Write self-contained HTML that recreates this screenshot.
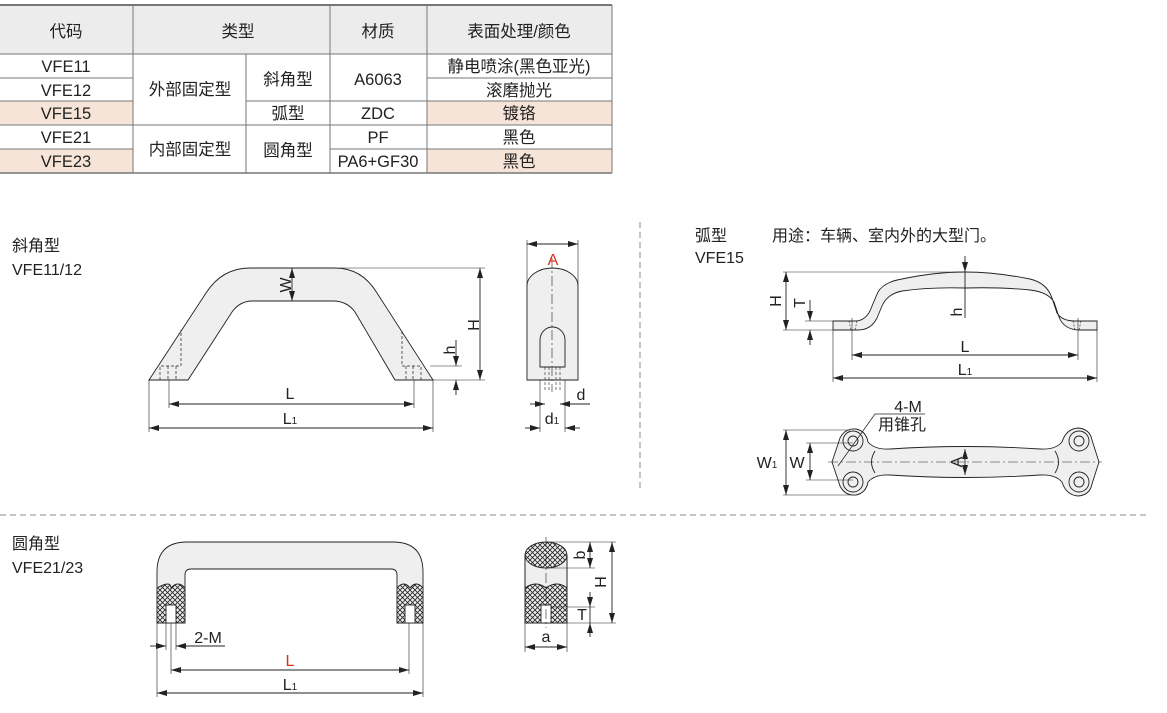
<!DOCTYPE html>
<html><head><meta charset="utf-8"><style>
body{margin:0;background:#fff;}
svg{display:block;font-family:"Liberation Sans","Noto Sans CJK SC",sans-serif;}
</style></head><body>
<svg width="1167" height="713" viewBox="0 0 1167 713" xmlns="http://www.w3.org/2000/svg">
<defs>
<marker id="ar" viewBox="0 0 10 6" refX="10" refY="3" markerWidth="10" markerHeight="6" orient="auto-start-reverse" markerUnits="userSpaceOnUse"><path d="M0,0 L10,3 L0,6 Z" fill="#222"/></marker>
<pattern id="hx" width="5" height="5" patternUnits="userSpaceOnUse"><rect width="5" height="5" fill="#eee"/><path d="M0,0 L5,5 M5,0 L0,5" stroke="#222" stroke-width="0.8"/></pattern>
</defs>
<!-- table -->
<g font-size="16.5" fill="#222" text-anchor="middle">
<rect x="0" y="5" width="612" height="49" fill="#ececec"/>
<rect x="0" y="101" width="133" height="24" fill="#f6e4d8"/>
<rect x="427" y="101" width="185" height="24" fill="#f6e4d8"/>
<rect x="0" y="149" width="133" height="24" fill="#f6e4d8"/>
<rect x="427" y="149" width="185" height="24" fill="#f6e4d8"/>
<g stroke="#777" stroke-width="1" fill="none">
<line x1="0" y1="5" x2="612" y2="5" stroke-width="2"/>
<line x1="0" y1="54" x2="612" y2="54"/>
<line x1="0" y1="173" x2="612" y2="173" stroke-width="1.5"/>
<line x1="0" y1="78" x2="133" y2="78"/><line x1="427" y1="78" x2="612" y2="78"/>
<line x1="0" y1="101" x2="133" y2="101"/><line x1="246" y1="101" x2="612" y2="101"/>
<line x1="0" y1="125" x2="612" y2="125"/>
<line x1="0" y1="149" x2="133" y2="149"/><line x1="330" y1="149" x2="612" y2="149"/>
<line x1="133" y1="5" x2="133" y2="173"/><line x1="246" y1="54" x2="246" y2="173"/>
<line x1="330" y1="5" x2="330" y2="173"/><line x1="427" y1="5" x2="427" y2="173"/>
<line x1="612" y1="5" x2="612" y2="173"/>
</g>
<text x="66" y="37">代码</text><text x="238" y="37">类型</text><text x="378" y="37">材质</text><text x="519" y="37">表面处理/颜色</text>
<text x="66" y="72">VFE11</text><text x="66" y="96">VFE12</text><text x="66" y="119">VFE15</text><text x="66" y="143">VFE21</text><text x="66" y="167">VFE23</text>
<text x="190" y="95">外部固定型</text><text x="190" y="155">内部固定型</text>
<text x="288" y="85">斜角型</text><text x="288" y="119">弧型</text><text x="288" y="156">圆角型</text>
<text x="378" y="85">A6063</text><text x="378" y="119">ZDC</text><text x="378" y="143">PF</text><text x="378" y="167">PA6+GF30</text>
<text x="519" y="72">静电喷涂(黑色亚光)</text><text x="519" y="96">滚磨抛光</text><text x="519" y="119">镀铬</text><text x="519" y="143">黑色</text><text x="519" y="167">黑色</text>
</g>
<!-- separators -->
<line x1="640" y1="222" x2="640" y2="490" stroke="#888" stroke-dasharray="6,4"/>
<line x1="0" y1="515" x2="1150" y2="515" stroke="#888" stroke-dasharray="6,4"/>
<!-- labels -->
<g font-size="16" fill="#222">
<text x="12" y="251">斜角型</text><text x="12" y="275">VFE11/12</text>
<text x="695" y="241">弧型</text><text x="695" y="263">VFE15</text>
<text x="772" y="241">用途：车辆、室内外的大型门。</text>
<text x="12" y="549">圆角型</text><text x="12" y="573">VFE21/23</text>
</g>
<g stroke="#222" stroke-width="0.9" fill="none" font-size="14">
<!-- drawing 1 -->
<path d="M149,380 L206,293 Q222,268 250,268 L335,268 Q362,268 377,293 L433,380 L395,380 L355,312 Q347,301 333,301 L252,301 Q240,301 232,312 L188,380 Z" fill="#efefef"/>
<g stroke-dasharray="3,2" stroke-width="0.7"><path d="M160,380 L160,366 L181,366 L181,330 M168,366 L168,380 M176,366 L176,380"/><path d="M421,380 L421,366 L402,366 L402,330 M413,366 L413,380 M406,366 L406,380"/></g>
<line x1="340" y1="268" x2="485" y2="268" stroke-width="0.6"/><line x1="433" y1="380" x2="485" y2="380" stroke-width="0.6"/>
<line x1="480" y1="268" x2="480" y2="380" marker-start="url(#ar)" marker-end="url(#ar)"/>
<line x1="430" y1="366" x2="462" y2="366" stroke-width="0.6"/>
<line x1="456" y1="340" x2="456" y2="366" marker-end="url(#ar)"/><line x1="456" y1="395" x2="456" y2="380" marker-end="url(#ar)"/>
<line x1="292" y1="268" x2="292" y2="301" marker-start="url(#ar)" marker-end="url(#ar)"/>
<line x1="149" y1="380" x2="149" y2="432" stroke-width="0.6"/><line x1="433" y1="380" x2="433" y2="432" stroke-width="0.6"/>
<line x1="169" y1="380" x2="169" y2="408" stroke-width="0.6"/><line x1="414" y1="380" x2="414" y2="408" stroke-width="0.6"/>
<line x1="169" y1="404" x2="414" y2="404" marker-start="url(#ar)" marker-end="url(#ar)"/>
<line x1="149" y1="428" x2="433" y2="428" marker-start="url(#ar)" marker-end="url(#ar)"/>
<!-- side view -->
<path d="M527,380 L527,286 A25.5,18 0 0 1 578,286 L578,380 Z" fill="#efefef"/>
<path d="M540,367 L540,340 A12.5,13 0 0 1 565,340 L565,367 Z" fill="#efefef"/>
<path d="M545,367 V392 M549,367 V392 M556,367 V392 M560,367 V392" stroke-dasharray="3,2" stroke-width="0.6"/>
<line x1="552" y1="258" x2="552" y2="392" stroke-dasharray="10,3,2,3" stroke-width="0.6"/>
<line x1="527" y1="240" x2="527" y2="286" stroke-width="0.6"/><line x1="578" y1="240" x2="578" y2="286" stroke-width="0.6"/>
<line x1="527" y1="244" x2="578" y2="244" marker-start="url(#ar)" marker-end="url(#ar)"/>
<line x1="540" y1="380" x2="540" y2="432" stroke-width="0.6"/><line x1="565" y1="380" x2="565" y2="432" stroke-width="0.6"/>
<line x1="530" y1="404" x2="545" y2="404" marker-end="url(#ar)"/><line x1="575" y1="404" x2="560" y2="404" marker-end="url(#ar)"/><line x1="560" y1="404" x2="590" y2="404"/>
<line x1="525" y1="428" x2="540" y2="428" marker-end="url(#ar)"/><line x1="580" y1="428" x2="565" y2="428" marker-end="url(#ar)"/>
<!-- drawing 3 top -->
<path d="M833,321 L855,321 Q867,321 872,306 L878,292 Q884,282 902,279 Q935,272 965,272 Q995,272 1030,279 Q1047,283 1052,298 L1057,313 Q1062,321 1075,321 L1097,321 L1097,330 L1080,330 Q1064,330 1059,317 L1054,302 Q1048,292 1030,290 Q1000,287 965,288 Q930,287 902,291 Q887,294 882,306 L877,318 Q871,330 858,330 L833,330 Z" fill="#efefef"/>
<path d="M849,321 L851,330 M857,321 L855,330 M1073,321 L1075,330 M1081,321 L1079,330" stroke-dasharray="2,1.5" stroke-width="0.6"/>
<line x1="783" y1="272" x2="965" y2="272" stroke-width="0.6"/><line x1="783" y1="330" x2="833" y2="330" stroke-width="0.6"/><line x1="805" y1="321" x2="833" y2="321" stroke-width="0.6"/>
<line x1="786" y1="272" x2="786" y2="330" marker-start="url(#ar)" marker-end="url(#ar)"/>
<line x1="810" y1="300" x2="810" y2="321" marker-end="url(#ar)"/><line x1="810" y1="345" x2="810" y2="330" marker-end="url(#ar)"/>
<line x1="965" y1="256" x2="965" y2="272" marker-end="url(#ar)"/><line x1="965" y1="272" x2="965" y2="318"/>
<line x1="852" y1="318" x2="852" y2="360" stroke-width="0.6"/><line x1="1078" y1="318" x2="1078" y2="360" stroke-width="0.6"/>
<line x1="833" y1="330" x2="833" y2="382" stroke-width="0.6"/><line x1="1097" y1="330" x2="1097" y2="382" stroke-width="0.6"/>
<line x1="852" y1="355" x2="1078" y2="355" marker-start="url(#ar)" marker-end="url(#ar)"/>
<line x1="833" y1="378" x2="1097" y2="378" marker-start="url(#ar)" marker-end="url(#ar)"/>
<!-- drawing 3 front -->
<path d="M832,462 L840,438 Q845,428 856,429 Q866,431 868,442 Q875,450 890,449 Q965,444 1040,449 Q1055,450 1062,442 Q1066,429 1078,428 Q1090,429 1092,440 L1099,462 L1092,484 Q1090,495 1078,496 Q1066,495 1062,482 Q1055,474 1040,475 Q965,480 890,475 Q875,474 868,482 Q866,493 856,495 Q845,496 840,486 Z" fill="#efefef"/>
<path d="M875,451 Q868,462 875,473 M1055,451 Q1062,462 1055,473" />
<circle cx="853" cy="441" r="10"/><circle cx="853" cy="441" r="5"/><circle cx="853" cy="482" r="10"/><circle cx="853" cy="482" r="5"/>
<circle cx="1079" cy="441" r="10"/><circle cx="1079" cy="441" r="5"/><circle cx="1079" cy="482" r="10"/><circle cx="1079" cy="482" r="5"/>
<line x1="828" y1="462" x2="1102" y2="462" stroke-dasharray="10,3,2,3" stroke-width="0.6"/>
<line x1="783" y1="430" x2="850" y2="430" stroke-width="0.6"/><line x1="783" y1="495" x2="850" y2="495" stroke-width="0.6"/>
<line x1="806" y1="443" x2="853" y2="443" stroke-width="0.6"/><line x1="806" y1="480" x2="853" y2="480" stroke-width="0.6"/>
<line x1="786" y1="430" x2="786" y2="495" marker-start="url(#ar)" marker-end="url(#ar)"/>
<line x1="810" y1="443" x2="810" y2="480" marker-start="url(#ar)" marker-end="url(#ar)"/>
<line x1="965" y1="449" x2="965" y2="475" marker-start="url(#ar)" marker-end="url(#ar)"/>
<polyline points="925,414 875,414 838,466" stroke-width="0.7"/>
<!-- drawing 4 -->
<path d="M157,623 L157,572 Q157,542 187,542 L393,542 Q423,542 423,572 L423,623 L397,623 L397,575 Q397,569 391,569 L191,569 Q185,569 185,575 L185,623 Z" fill="#efefef"/>
<path d="M157,588 Q171,580 171,588 Q178,580 185,588 L185,623 L157,623 Z" fill="url(#hx)"/>
<path d="M397,588 Q404,580 410,588 Q416,580 423,588 L423,623 L397,623 Z" fill="url(#hx)"/>
<rect x="166" y="605" width="10" height="18" fill="#fff"/><rect x="405" y="605" width="10" height="18" fill="#fff"/>
<line x1="157" y1="623" x2="157" y2="697" stroke-width="0.6"/><line x1="423" y1="623" x2="423" y2="697" stroke-width="0.6"/>
<line x1="166" y1="623" x2="166" y2="650" stroke-width="0.6"/><line x1="176" y1="623" x2="176" y2="650" stroke-width="0.6"/>
<line x1="171" y1="623" x2="171" y2="674" stroke-width="0.6"/><line x1="409" y1="623" x2="409" y2="674" stroke-width="0.6"/>
<line x1="150" y1="646" x2="166" y2="646" marker-end="url(#ar)"/><line x1="190" y1="646" x2="176" y2="646" marker-end="url(#ar)"/><line x1="176" y1="646" x2="225" y2="646"/>
<line x1="171" y1="670" x2="409" y2="670" marker-start="url(#ar)" marker-end="url(#ar)"/>
<line x1="157" y1="693" x2="423" y2="693" marker-start="url(#ar)" marker-end="url(#ar)"/>
<!-- side -->
<rect x="525" y="555" width="42" height="68" fill="#efefef"/>
<path d="M525,588 Q536,580 546,588 Q557,580 567,588 L567,623 L525,623 Z" fill="url(#hx)"/>
<ellipse cx="546" cy="555" rx="21" ry="13" fill="url(#hx)"/>
<line x1="525" y1="555" x2="525" y2="623"/><line x1="567" y1="555" x2="567" y2="623"/>
<rect x="541" y="605" width="10" height="18" fill="#fff"/>
<line x1="546" y1="537" x2="546" y2="628" stroke-dasharray="10,3,2,3" stroke-width="0.6"/>
<line x1="546" y1="542" x2="616" y2="542" stroke-width="0.6"/><line x1="546" y1="568" x2="595" y2="568" stroke-width="0.6"/>
<line x1="567" y1="623" x2="616" y2="623" stroke-width="0.6"/><line x1="551" y1="607" x2="595" y2="607" stroke-width="0.6"/>
<line x1="590" y1="542" x2="590" y2="568" marker-start="url(#ar)" marker-end="url(#ar)"/>
<line x1="612" y1="542" x2="612" y2="623" marker-start="url(#ar)" marker-end="url(#ar)"/>
<line x1="590" y1="592" x2="590" y2="607" marker-end="url(#ar)"/><line x1="590" y1="637" x2="590" y2="623" marker-end="url(#ar)"/><line x1="590" y1="607" x2="590" y2="623"/>
<line x1="525" y1="623" x2="525" y2="652" stroke-width="0.6"/><line x1="567" y1="623" x2="567" y2="652" stroke-width="0.6"/>
<line x1="525" y1="647" x2="567" y2="647" marker-start="url(#ar)" marker-end="url(#ar)"/>
</g>
<!-- dimension labels -->
<g font-size="16" fill="#222" text-anchor="middle">
<text x="290" y="399">L</text><text x="290" y="424">L<tspan font-size="10">1</tspan></text>
<text transform="translate(479,325) rotate(-90)">H</text>
<text transform="translate(455,350) rotate(-90)">h</text>
<text transform="translate(291,285) rotate(-90)">W</text>
<text x="553" y="265" fill="#e0301e">A</text>
<text x="581" y="400">d</text><text x="552" y="424">d<tspan font-size="10">1</tspan></text>
<text transform="translate(781,301) rotate(-90)">H</text>
<text transform="translate(805,303) rotate(-90)">T</text>
<text transform="translate(962,312) rotate(-90)">h</text>
<text x="965" y="352">L</text><text x="965" y="375">L<tspan font-size="10">1</tspan></text>
<text x="908" y="412">4-M</text><text x="902" y="430">用锥孔</text>
<text x="767" y="468">W<tspan font-size="10">1</tspan></text><text x="797" y="468">W</text>
<text transform="translate(962,462) rotate(-90)">A</text>
<text x="208" y="643">2-M</text>
<text x="290" y="666" fill="#e0301e">L</text><text x="290" y="690">L<tspan font-size="10">1</tspan></text>
<text transform="translate(606,582) rotate(-90)">H</text>
<text transform="translate(585,555) rotate(-90)">b</text>
<text x="582" y="620">T</text>
<text x="546" y="642">a</text>
</g>
</svg>
</body></html>
